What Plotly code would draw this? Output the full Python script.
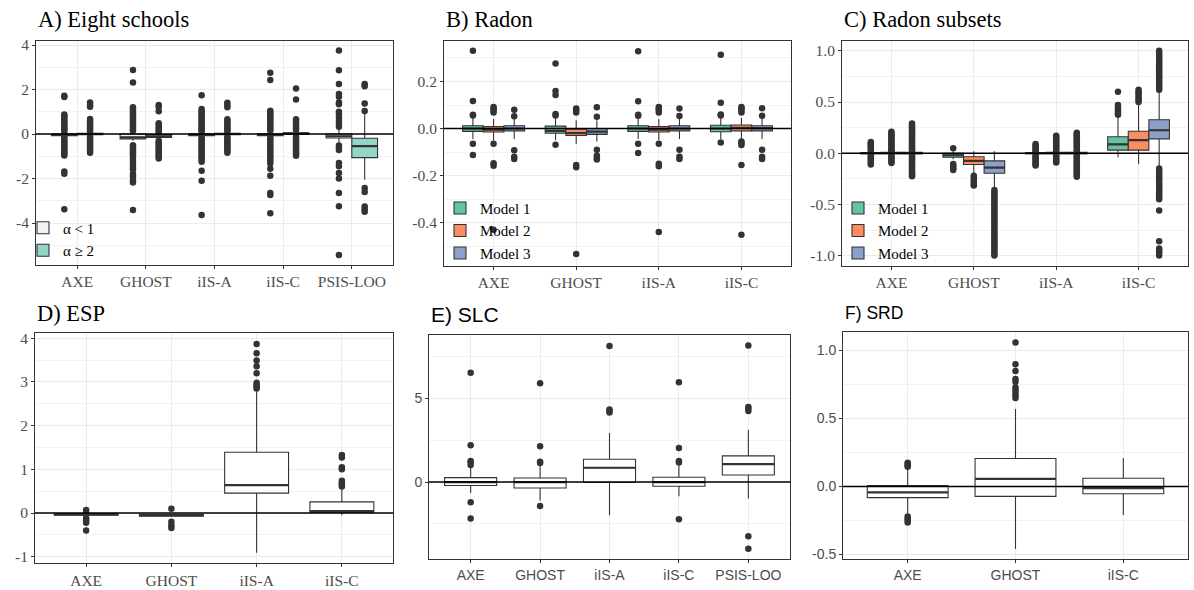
import plotly.graph_objects as go

W, H = 1194, 590

# ---------------- DATA ----------------
# Panel A: Eight schools
A_cats = ["AXE", "GHOST", "iIS-A", "iIS-C", "PSIS-LOO"]
A_groups = ["α < 1", "α ≥ 2"]
A_q1 = [[-0.07, -0.22, -0.07, -0.07, -0.18], [-0.03, -0.15, -0.03, -0.02, -1.06]]
A_med = [[-0.03, -0.15, -0.03, -0.03, -0.10], [0.0, -0.10, 0.0, 0.02, -0.54]]
A_q3 = [[0.0, 0.0, 0.0, 0.0, 0.0], [0.03, -0.02, 0.03, 0.06, -0.19]]
A_lo = [[-0.10, -0.30, -0.10, -0.10, -0.40], [-0.06, -0.20, -0.06, -0.05, -2.06]]
A_hi = [[0.03, 0.08, 0.03, 0.03, 0.25], [0.06, 0.02, 0.06, 0.10, 0.96]]
A_out = [
    [
        [1.72, 1.66, 0.88, 0.8, 0.72, 0.64, 0.55, 0.47, 0.4, 0.32, 0.25, 0.18, 0.1, -0.15, -0.22, -0.3, -0.38,
         -0.47, -0.55, -0.63, -0.72, -0.8, -0.88, -0.96, -1.68, -1.78, -3.38],
        [2.88, 2.32, 1.2, 1.12, 1.04, 0.96, 0.88, 0.8, 0.72, 0.64, 0.55, 0.47, 0.38, 0.3, 0.22, 0.15, -0.5,
         -0.58, -0.66, -0.74, -0.82, -0.9, -0.98, -1.08, -1.2, -1.32, -1.45, -1.58, -1.78, -1.9, -2.08, -2.18, -3.41],
        [1.74, 1.12, 1.04, 0.96, 0.88, 0.8, 0.72, 0.64, 0.55, 0.47, 0.4, 0.32, 0.25, 0.18, 0.1, -0.15, -0.22,
         -0.3, -0.38, -0.47, -0.55, -0.63, -0.72, -0.8, -0.88, -0.96, -1.05, -1.15, -1.25, -1.65, -2.1, -3.64],
        [2.75, 2.43, 1.05, 0.97, 0.89, 0.8, 0.72, 0.64, 0.55, 0.47, 0.38, 0.3, 0.22, 0.15, -0.15, -0.22, -0.3,
         -0.4, -0.5, -0.6, -0.7, -0.8, -0.9, -1.0, -1.1, -1.2, -1.32, -1.56, -1.88, -2.65, -2.74, -3.56],
        [3.75, 2.87, 2.25, 1.8, 1.68, 1.42, 1.34, 1.0, 0.9, 0.75, 0.6, 0.45, 0.33, -0.52, -0.62, -0.72, -1.3,
         -1.45, -1.75, -2.0, -2.65, -3.25, -5.44],
    ],
    [
        [1.42, 1.3, 1.22, 0.68, 0.6, 0.52, 0.44, 0.36, 0.28, 0.2, 0.12, -0.12, -0.2, -0.28, -0.36, -0.44, -0.52,
         -0.6, -0.68, -0.76, -0.84],
        [1.3, 1.22, 1.02, 0.48, 0.4, 0.32, 0.24, 0.16, 0.08, -0.3, -0.38, -0.46, -0.54, -0.62, -0.7, -0.78, -0.86,
         -0.94, -1.02, -1.1],
        [1.4, 1.3, 1.2, 0.66, 0.58, 0.5, 0.42, 0.34, 0.26, 0.18, 0.1, -0.12, -0.2, -0.28, -0.36, -0.44, -0.52,
         -0.6, -0.68, -0.76, -0.84],
        [2.05, 1.55, 0.66, 0.58, 0.5, 0.42, 0.34, 0.26, 0.18, -0.12, -0.2, -0.28, -0.36, -0.44, -0.52, -0.6,
         -0.68, -0.76, -0.84, -0.92, -0.98],
        [2.25, 2.15, 1.37, 1.03, -2.43, -2.6, -3.26, -3.38, -3.49],
    ],
]

# Panel B: Radon
B_cats = ["AXE", "GHOST", "iIS-A", "iIS-C"]
B_groups = ["Model 1", "Model 2", "Model 3"]
B_q1 = [[-0.012, -0.02, -0.012, -0.014], [-0.015, -0.03, -0.015, -0.01], [-0.01, -0.025, -0.01, -0.01]]
B_med = [[0.0, -0.01, 0.0, 0.0], [-0.005, -0.02, -0.005, 0.003], [0.0, -0.013, 0.0, 0.002]]
B_q3 = [[0.012, 0.01, 0.012, 0.014], [0.008, -0.003, 0.008, 0.015], [0.012, 0.0, 0.012, 0.012]]
B_lo = [[-0.045, -0.05, -0.045, -0.045], [-0.05, -0.065, -0.05, -0.045], [-0.045, -0.055, -0.045, -0.045]]
B_hi = [[0.045, 0.045, 0.045, 0.045], [0.04, 0.035, 0.04, 0.045], [0.045, 0.035, 0.045, 0.045]]
B_out = [
    [[0.331, 0.117, 0.059, 0.055, -0.065, -0.113], [0.276, 0.16, 0.142, 0.062, 0.055, -0.069],
     [0.329, 0.116, 0.058, 0.054, -0.065, -0.104], [0.314, 0.11, 0.06, 0.055, -0.06]],
    [[0.092, 0.085, 0.078, 0.068, -0.065, -0.148, -0.158, -0.43], [0.085, 0.078, 0.068, -0.155, -0.165, -0.534],
     [0.092, 0.085, 0.078, 0.068, -0.065, -0.15, -0.16, -0.44],
     [0.092, 0.085, 0.078, 0.068, -0.055, -0.062, -0.07, -0.155, -0.452]],
    [[0.08, 0.052, -0.092, -0.12, -0.13], [0.09, 0.05, -0.09, -0.115, -0.125, -0.132],
     [0.085, 0.053, -0.09, -0.12, -0.13], [0.086, 0.054, -0.09, -0.12, -0.13]],
]

# Panel C: Radon subsets
C_cats = ["AXE", "GHOST", "iIS-A", "iIS-C"]
C_groups = ["Model 1", "Model 2", "Model 3"]
C_q1 = [[-0.005, -0.04, -0.005, 0.03], [-0.005, -0.11, -0.005, 0.03], [-0.005, -0.195, -0.005, 0.14]]
C_med = [[0.0, -0.02, 0.0, 0.087], [0.0, -0.075, 0.0, 0.128], [0.0, -0.14, 0.0, 0.224]]
C_q3 = [[0.005, 0.0, 0.005, 0.16], [0.008, -0.035, 0.008, 0.215], [0.01, -0.075, 0.01, 0.327]]
C_lo = [[-0.01, -0.06, -0.01, -0.04], [-0.01, -0.2, -0.01, -0.106], [-0.015, -0.36, -0.015, -0.147]]
C_hi = [[0.01, 0.02, 0.01, 0.35], [0.015, 0.02, 0.015, 0.47], [0.015, 0.02, 0.015, 0.6]]
C_out = [
    [
        [0.11, 0.095, 0.08, 0.065, 0.05, 0.035, 0.02, -0.02, -0.035, -0.05, -0.065, -0.08, -0.095, -0.11],
        [0.048, -0.105, -0.12, -0.135, -0.15, -0.165],
        [0.09, 0.075, 0.06, 0.045, 0.03, 0.015, -0.02, -0.035, -0.05, -0.065, -0.08, -0.095, -0.11, -0.12],
        [0.6, 0.47, 0.45, 0.43, 0.41, 0.39, 0.375],
    ],
    [
        [0.21, 0.195, 0.18, 0.165, 0.15, 0.135, 0.12, 0.105, 0.09, 0.075, 0.06, 0.045, 0.03, 0.02, -0.02,
         -0.035, -0.05, -0.065, -0.08, -0.095],
        [-0.22, -0.24, -0.26, -0.28, -0.3, -0.315],
        [0.17, 0.155, 0.14, 0.125, 0.11, 0.095, 0.08, 0.065, 0.05, 0.035, 0.02, -0.02, -0.035, -0.05, -0.065,
         -0.08, -0.09],
        [0.62, 0.6, 0.58, 0.56, 0.54, 0.52, 0.5],
    ],
    [
        [0.29, 0.275, 0.26, 0.245, 0.23, 0.215, 0.2, 0.185, 0.17, 0.155, 0.14, 0.125, 0.11, 0.095, 0.08, 0.065,
         0.05, 0.035, 0.02, -0.02, -0.035, -0.05, -0.065, -0.08, -0.095, -0.11, -0.125, -0.14, -0.155, -0.17,
         -0.185, -0.2, -0.215, -0.225],
        [-0.36, -0.38, -0.4, -0.42, -0.44, -0.46, -0.48, -0.5, -0.52, -0.54, -0.56, -0.58, -0.6, -0.62, -0.64,
         -0.66, -0.68, -0.7, -0.72, -0.74, -0.76, -0.78, -0.8, -0.82, -0.84, -0.86, -0.88, -0.9, -0.92, -0.94,
         -0.96, -0.98, -1.0],
        [0.2, 0.185, 0.17, 0.155, 0.14, 0.125, 0.11, 0.095, 0.08, 0.065, 0.05, 0.035, 0.02, -0.02, -0.035, -0.05,
         -0.065, -0.08, -0.095, -0.11, -0.125, -0.14, -0.155, -0.17, -0.185, -0.2, -0.215, -0.23],
        [1.0, 0.98, 0.96, 0.94, 0.92, 0.9, 0.88, 0.86, 0.84, 0.82, 0.8, 0.78, 0.76, 0.74, 0.72, 0.7, 0.68, 0.66,
         0.64, 0.62, -0.15, -0.17, -0.19, -0.21, -0.23, -0.25, -0.27, -0.29, -0.31, -0.33, -0.35, -0.37, -0.39,
         -0.41, -0.43, -0.45, -0.56, -0.86, -0.93, -0.95, -0.97, -1.0],
    ],
]

# Panel D: ESP
D_cats = ["AXE", "GHOST", "iIS-A", "iIS-C"]
D_q1 = [-0.05, -0.07, 0.455, 0.02]
D_med = [-0.03, -0.05, 0.64, 0.045]
D_q3 = [-0.02, -0.03, 1.39, 0.255]
D_lo = [-0.07, -0.09, -0.91, -0.05]
D_hi = [0.0, -0.01, 2.79, 0.55]
D_out = [[0.07, 0.0, -0.12, -0.17, -0.22, -0.4], [0.1, -0.2, -0.28, -0.34],
         [3.87, 3.66, 3.49, 3.36, 3.2, 2.98, 2.93, 2.89, 2.85], [1.33, 1.27, 1.05, 1.0, 0.74, 0.69, 0.65, 0.61]]

# Panel E: SLC
E_cats = ["AXE", "GHOST", "iIS-A", "iIS-C", "PSIS-LOO"]
E_q1 = [-0.2, -0.35, -0.02, -0.25, 0.43]
E_med = [0.0, 0.0, 0.86, 0.0, 1.08]
E_q3 = [0.27, 0.25, 1.37, 0.29, 1.57]
E_lo = [-0.65, -1.1, -1.98, -0.85, -0.98]
E_hi = [0.92, 1.0, 2.94, 1.0, 3.12]
E_out = [[6.55, 2.2, 1.27, 1.2, 1.02, -1.2, -2.18], [5.92, 2.14, 1.22, 1.15, -1.43], [8.14, 4.35, 4.25, 4.16],
         [5.98, 2.04, 1.27, 1.18, -2.22], [8.18, 4.5, 4.4, 4.25, -3.24, -3.98]]

# Panel F: SRD
F_cats = ["AXE", "GHOST", "iIS-C"]
F_q1 = [-0.082, -0.073, -0.053]
F_med = [-0.044, 0.056, -0.012]
F_q3 = [0.007, 0.206, 0.06]
F_lo = [-0.2, -0.46, -0.21]
F_hi = [0.14, 0.57, 0.21]
F_out = [[0.175, 0.165, 0.155, 0.145, -0.22, -0.235, -0.25, -0.265],
         [1.06, 0.9, 0.85, 0.79, 0.77, 0.73, 0.71, 0.69, 0.67, 0.65], []]

# ---------------- STYLE / LAYOUT ----------------
SERIF = "Liberation Serif"
SANS = "Liberation Sans"
PT_COL = "#333333"
BOX_LINE = "#333333"

panels = [
    dict(id="", box=(36, 37, 393, 264), yr=[-5.88, 4.2], yt=[-4, -2, 0, 2, 4], ytt=["-4", "-2", "0", "2", "4"],
         ym=[-5, -3, -1, 1, 3], font=SERIF, title="A) Eight schools", tsize=22.5, ty=16),
    dict(id="2", box=(444, 37, 791, 265), yr=[-0.584, 0.374], yt=[-0.4, -0.2, 0, 0.2],
         ytt=["-0.4", "-0.2", "0.0", "0.2"], ym=[-0.5, -0.3, -0.1, 0.1, 0.3], font=SERIF, title="B) Radon",
         tsize=22.5, ty=16),
    dict(id="3", box=(842, 37, 1188, 265), yr=[-1.1, 1.1], yt=[-1, -0.5, 0, 0.5, 1],
         ytt=["-1.0", "-0.5", "0.0", "0.5", "1.0"], ym=[-0.75, -0.25, 0.25, 0.75], font=SERIF,
         title="C) Radon subsets", tsize=22.5, ty=16),
    dict(id="4", box=(35, 333, 393, 566), yr=[-1.15, 4.12], yt=[-1, 0, 1, 2, 3, 4],
         ytt=["-1", "0", "1", "2", "3", "4"], ym=[-0.5, 0.5, 1.5, 2.5, 3.5], font=SERIF, title="D) ESP",
         tsize=22.5, ty=313),
    dict(id="5", box=(429, 335, 790, 562), yr=[-4.62, 8.8], yt=[0, 5], ytt=["0", "5"], ym=[-2.5, 2.5, 7.5],
         font=SANS, title="E) SLC", tsize=21, ty=314),
    dict(id="6", box=(843, 332, 1188, 562), yr=[-0.536, 1.136], yt=[-0.5, 0, 0.5, 1.0],
         ytt=["-0.5", "0.0", "0.5", "1.0"], ym=[-0.25, 0.25, 0.75], font=SANS, title="F) SRD", tsize=17.5,
         ty=313),
]
cats_list = [A_cats, B_cats, C_cats, D_cats, E_cats, F_cats]

fig = go.Figure()
layout = dict(width=W, height=H, margin=dict(l=0, r=0, t=0, b=0), paper_bgcolor="white",
              plot_bgcolor="white", boxmode="overlay", showlegend=True, shapes=[], annotations=[])

for p, cats in zip(panels, cats_list):
    l, t, r, b = p["box"]
    n = len(cats)
    fsize = 15.5 if p["font"] == SERIF else 14
    xa = dict(domain=[l / W, r / W], range=[0.4, n + 0.6], tickmode="array", tickvals=list(range(1, n + 1)),
              ticktext=cats, showgrid=True, gridcolor="#ebebeb", gridwidth=1, ticks="outside", ticklen=3,
              tickcolor="#333333", tickwidth=1, showline=True, mirror=True, linecolor="#333333", linewidth=1,
              zeroline=False, tickfont=dict(family=p["font"], size=fsize, color="#4d4d4d"),
              anchor="y" + p["id"], fixedrange=True)
    ya = dict(domain=[1 - b / H, 1 - t / H], range=p["yr"], tickmode="array", tickvals=p["yt"],
              ticktext=p["ytt"], showgrid=True, gridcolor="#ebebeb", gridwidth=1, ticks="outside", ticklen=3,
              tickcolor="#333333", tickwidth=1, showline=True, mirror=True, linecolor="#333333", linewidth=1,
              zeroline=False, tickfont=dict(family=p["font"], size=fsize, color="#4d4d4d"),
              anchor="x" + p["id"], fixedrange=True,
              minor=dict(tickmode="array", tickvals=p["ym"], showgrid=True, gridcolor="#f3f3f3", gridwidth=0.7,
                         ticks=""))
    layout["xaxis" + p["id"]] = xa
    layout["yaxis" + p["id"]] = ya
    layout["shapes"].append(dict(type="line", xref="x" + p["id"] + " domain", yref="y" + p["id"], x0=0, x1=1,
                                 y0=0, y1=0, layer="above", line=dict(color="black", width=1.5)))
    layout["annotations"].append(dict(text=p["title"], xref="paper", yref="paper", x=l / W, y=1 - p["ty"] / H,
                                      xanchor="left", yanchor="middle", showarrow=False,
                                      font=dict(family=p["font"], size=p["tsize"], color="black")))


def add_group(axid, cats, ngroups, g, q1, med, q3, lo, hi, outs, fill, name, legend, showlegend):
    dw = 0.75 / ngroups
    off = (g - (ngroups - 1) / 2) * dw
    xs = [i + 1 + off for i in range(len(cats))]
    fig.add_trace(go.Box(x=xs, q1=q1, median=med, q3=q3, lowerfence=lo, upperfence=hi, orientation="v",
                         width=dw, whiskerwidth=0, boxpoints=False, fillcolor=fill,
                         line=dict(color=BOX_LINE, width=1.1), name=name, legend=legend, showlegend=showlegend,
                         xaxis="x" + axid, yaxis="y" + axid, hoverinfo="skip"))
    mx, my = [], []
    for x, m in zip(xs, med):
        mx += [x - dw / 2, x + dw / 2, None]
        my += [m, m, None]
    fig.add_trace(go.Scatter(x=mx, y=my, mode="lines", line=dict(color=BOX_LINE, width=2.2), showlegend=False,
                             xaxis="x" + axid, yaxis="y" + axid, hoverinfo="skip"))
    ox, oy = [], []
    for x, vals in zip(xs, outs):
        ox += [x] * len(vals)
        oy += vals
    fig.add_trace(go.Scatter(x=ox, y=oy, mode="markers", marker=dict(color=PT_COL, size=6.5, line=dict(width=0)),
                             showlegend=False, xaxis="x" + axid, yaxis="y" + axid, hoverinfo="skip"))


A_fill = ["#eef4f6", "#93d5c6"]
SET2 = ["#66c2a5", "#fc8d62", "#8da0cb"]

for g in range(2):
    add_group("", A_cats, 2, g, A_q1[g], A_med[g], A_q3[g], A_lo[g], A_hi[g], A_out[g], A_fill[g], A_groups[g],
              "legend", True)
for g in range(3):
    add_group("2", B_cats, 3, g, B_q1[g], B_med[g], B_q3[g], B_lo[g], B_hi[g], B_out[g], SET2[g], B_groups[g],
              "legend2", True)
for g in range(3):
    add_group("3", C_cats, 3, g, C_q1[g], C_med[g], C_q3[g], C_lo[g], C_hi[g], C_out[g], SET2[g], C_groups[g],
              "legend3", True)
add_group("4", D_cats, 1, 0, D_q1, D_med, D_q3, D_lo, D_hi, D_out, "white", "ESP", "legend", False)
add_group("5", E_cats, 1, 0, E_q1, E_med, E_q3, E_lo, E_hi, E_out, "white", "SLC", "legend", False)
add_group("6", F_cats, 1, 0, F_q1, F_med, F_q3, F_lo, F_hi, F_out, "white", "SRD", "legend", False)

leg_common = dict(bgcolor="rgba(255,255,255,0)", borderwidth=0, xanchor="left", yanchor="top",
                  tracegroupgap=0, itemwidth=30, font=dict(family=SERIF, size=15, color="black"))
layout["legend"] = dict(x=23 / W, y=1 - 210 / H, **leg_common)
layout["legend2"] = dict(x=440 / W, y=1 - 190 / H, **leg_common)
layout["legend3"] = dict(x=838 / W, y=1 - 190 / H, **leg_common)

fig.update_layout(**layout)
fig.write_html("out.html")
